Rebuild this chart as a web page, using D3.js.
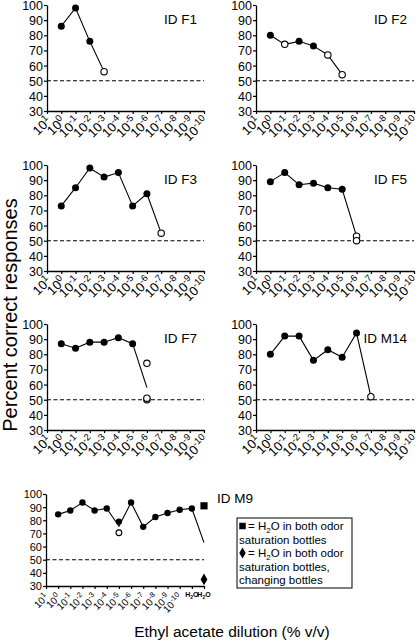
<!DOCTYPE html>
<html><head><meta charset="utf-8">
<script src="https://cdn.jsdelivr.net/npm/d3@7"></script>
<style>
body{margin:0;background:#fff}
svg{display:block}
text{font-family:"Liberation Sans",Arial,Helvetica,sans-serif;fill:#000}
</style>
</head><body>
<svg id="chart" width="418" height="644"></svg>
<script>
// ---------- data ----------
const dilutionExps = ["1","0","-1","-2","-3","-4","-5","-6","-7","-8","-9","-10"];
const m9Categories = [...dilutionExps, "H2O_a", "H2O_b"];
const yTicks = [30,40,50,60,70,80,90,100];
const chanceLevel = 50;
const panelIds = ["ID F1","ID F2","ID F3","ID F5","ID F7","ID M14","ID M9"];

const f1Line   = [["0",86],["-1",98],["-2",76],["-3",56]];
const f1Filled = [["0",86],["-1",98],["-2",76]];
const f1Open   = [["-3",56]];

const f2Line   = [["0",80],["-1",74],["-2",76],["-3",73],["-4",67],["-5",54]];
const f2Filled = [["0",80],["-2",76],["-3",73]];
const f2Open   = [["-1",74],["-4",67],["-5",54]];

const f3Line   = [["0",73],["-1",85],["-2",98],["-3",92],["-4",95],["-5",73],["-6",81],["-7",55]];
const f3Filled = [["0",73],["-1",85],["-2",98],["-3",92],["-4",95],["-5",73],["-6",81]];
const f3Open   = [["-7",55]];

const f5Line   = [["0",89],["-1",95],["-2",87],["-3",88],["-4",85],["-5",84],["-6",53]];
const f5Filled = [["0",89],["-1",95],["-2",87],["-3",88],["-4",85],["-5",84]];
const f5Open   = [["-6",53],["-6",50]];

const f7Line   = [["0",87],["-1",84],["-2",88],["-3",88],["-4",91],["-5",87],["-6",58]];
const f7Filled = [["0",87],["-1",84],["-2",88],["-3",88],["-4",91],["-5",87]];
const f7Open   = [["-6",74],["-6",50],["-6",51]];

const m14Line   = [["0",80],["-1",92],["-2",92],["-3",76],["-4",83],["-5",78],["-6",94],["-7",52]];
const m14Filled = [["0",80],["-1",92],["-2",92],["-3",76],["-4",83],["-5",78],["-6",94]];
const m14Open   = [["-7",52]];

const m9Line   = [["0",84.5],["-1",87.5],["-2",93.5],["-3",87.5],["-4",89],["-5",75.5],["-6",93.5],["-7",75],["-8",82.5],["-9",85.5],["-10",88],["H2O_a",89],["H2O_b",63]];
const m9Filled = [["0",84.5],["-1",87.5],["-2",93.5],["-3",87.5],["-4",89],["-5",79],["-6",93.5],["-7",75],["-8",82.5],["-9",85.5],["-10",88],["H2O_a",89]];
const m9Open   = [["-5",70.5]];
const m9Square = [["H2O_b",91]];
const m9Diamond = [["H2O_b",35]];

const legendLines = ["= H2O in both odor","saturation bottles","= H2O in both odor","saturation bottles,","changing bottles"];

// ---------- layout ----------
const layout = [
  {x0:47, x1:204, y0:5,   y1:111},
  {x0:256,x1:414, y0:5,   y1:111},
  {x0:47, x1:204, y0:165, y1:271},
  {x0:256,x1:414, y0:165, y1:271},
  {x0:47, x1:204, y0:324, y1:430},
  {x0:256,x1:414, y0:324, y1:430},
  {x0:46, x1:204, y0:494, y1:586}
];
const panels = [
  {line:f1Line, filled:f1Filled, open:f1Open},
  {line:f2Line, filled:f2Filled, open:f2Open},
  {line:f3Line, filled:f3Filled, open:f3Open},
  {line:f5Line, filled:f5Filled, open:f5Open},
  {line:f7Line, filled:f7Filled, open:f7Open},
  {line:m14Line, filled:m14Filled, open:m14Open},
  {line:m9Line, filled:m9Filled, open:m9Open, square:m9Square, diamond:m9Diamond, cats:m9Categories}
];

const svg = d3.select("#chart");

panels.forEach((p, i) => {
  const L = layout[i];
  const isM9 = i === 6;
  const cats = p.cats || dilutionExps;
  const x = d3.scalePoint().domain(cats).range([L.x0, L.x1]).padding(0);
  const y = d3.scaleLinear().domain([30,100]).range([L.y1, L.y0]);
  const g = svg.append("g");

  // dashed chance line
  g.append("line")
    .attr("x1", L.x0).attr("x2", L.x1)
    .attr("y1", y(chanceLevel)).attr("y2", y(chanceLevel))
    .attr("stroke","#000").attr("stroke-width",1.1).attr("stroke-dasharray","4,2.5");

  // y axis
  const ya = g.append("g").attr("transform",`translate(${L.x0},0)`)
    .call(d3.axisLeft(y).tickValues(yTicks).tickSize(3).tickSizeOuter(0).tickPadding(1));
  ya.select(".domain").attr("stroke-width",1.3);
  ya.selectAll(".tick line").attr("stroke-width",1.2);
  ya.selectAll(".tick text").attr("font-family",null).style("font-size", isM9 ? "11px" : "12.5px")
    .attr("dy","0.36em");

  // x axis
  const xa = g.append("g").attr("transform",`translate(0,${L.y1})`)
    .call(d3.axisBottom(x).tickSize(3).tickSizeOuter(0).tickFormat(""));
  xa.select(".domain").attr("stroke-width",1.3);
  xa.selectAll(".tick line").attr("stroke-width",1.2);

  // x tick labels
  const fs = isM9 ? 10 : 13, sup = isM9 ? 7.5 : 9.5;
  cats.forEach(c => {
    if (c.startsWith("H2O")) {
      const t = g.append("text")
        .attr("x", x(c)).attr("y", L.y1 + 11)
        .attr("text-anchor","middle")
        .style("font-size","7px").style("font-weight","bold");
      t.append("tspan").text("H");
      t.append("tspan").text("2").style("font-size","5px").attr("dy","1.5");
      t.append("tspan").text("O").attr("dy","-1.5");
      return;
    }
    const off = isM9 ? [3, 12] : [5, 11];
    const t = g.append("text")
      .attr("transform",`translate(${x(c)+off[0]},${L.y1+off[1]}) rotate(-45)`)
      .attr("text-anchor","end")
      .style("font-size", fs + "px");
    t.append("tspan").text("10");
    t.append("tspan").text(c).style("font-size", sup + "px").attr("dy", isM9 ? -4 : -5);
  });

  // connecting line
  const lineGen = d3.line().x(d => x(d[0])).y(d => y(d[1]));
  g.append("path").datum(p.line).attr("d", lineGen)
    .attr("fill","none").attr("stroke","#000").attr("stroke-width",1.1);

  // filled circles
  g.selectAll(".f").data(p.filled).enter().append("circle")
    .attr("cx", d => x(d[0])).attr("cy", d => y(d[1])).attr("r", isM9 ? 3.2 : 3.5)
    .attr("fill","#000");
  // open circles
  g.selectAll(".o").data(p.open).enter().append("circle")
    .attr("cx", d => x(d[0])).attr("cy", d => y(d[1])).attr("r", isM9 ? 2.9 : 3.2)
    .attr("fill","#fff").attr("stroke","#000").attr("stroke-width",1.1);

  if (p.square) {
    g.selectAll(".sq").data(p.square).enter().append("path")
      .attr("transform", d => `translate(${x(d[0])},${y(d[1])})`)
      .attr("d", d3.symbol(d3.symbolSquare, 52)).attr("fill","#000");
  }
  if (p.diamond) {
    g.selectAll(".dm").data(p.diamond).enter().append("path")
      .attr("transform", d => `translate(${x(d[0])},${y(d[1])})`)
      .attr("d", d3.symbol(d3.symbolDiamond, 40)).attr("fill","#000");
  }

  // panel title
  const tt = g.append("text").text(panelIds[i]).style("font-size","13.5px");
  if (isM9) tt.attr("x", 217).attr("y", L.y0 + 9);
  else tt.attr("x", L.x1 - 7).attr("y", L.y0 + 19).attr("text-anchor","end");
});

// legend
const lg = svg.append("g");
lg.append("rect").attr("x",237).attr("y",518).attr("width",115).attr("height",70)
  .attr("fill","#fff").attr("stroke","#000").attr("stroke-width",1);
const legY = [530, 543.5, 557, 570.5, 583.5];
legendLines.forEach((s, k) => {
  const hasMarker = (k === 0 || k === 2);
  const t = lg.append("text").attr("x", hasMarker ? 248 : 239).attr("y", legY[k]).style("font-size","11.5px");
  if (s.includes("H2O")) {
    const [a, b] = s.split("H2O");
    t.append("tspan").text(a + "H");
    t.append("tspan").text("2").style("font-size","8px").attr("dy",2.5);
    t.append("tspan").text("O" + b).attr("dy",-2.5);
  } else t.text(s);
});
lg.append("path").attr("transform","translate(242.5,526)").attr("d", d3.symbol(d3.symbolSquare, 42)).attr("fill","#000");
lg.append("path").attr("transform","translate(242.5,553)").attr("d", d3.symbol(d3.symbolDiamond, 36)).attr("fill","#000");

// axis titles
svg.append("text").text("Percent correct responses")
  .attr("transform","translate(17,315) rotate(-90)").attr("text-anchor","middle")
  .style("font-size","20px");
svg.append("text").text("Ethyl acetate dilution (% v/v)")
  .attr("x", 232).attr("y", 637).attr("text-anchor","middle")
  .style("font-size","15.5px");
</script>
</body></html>
